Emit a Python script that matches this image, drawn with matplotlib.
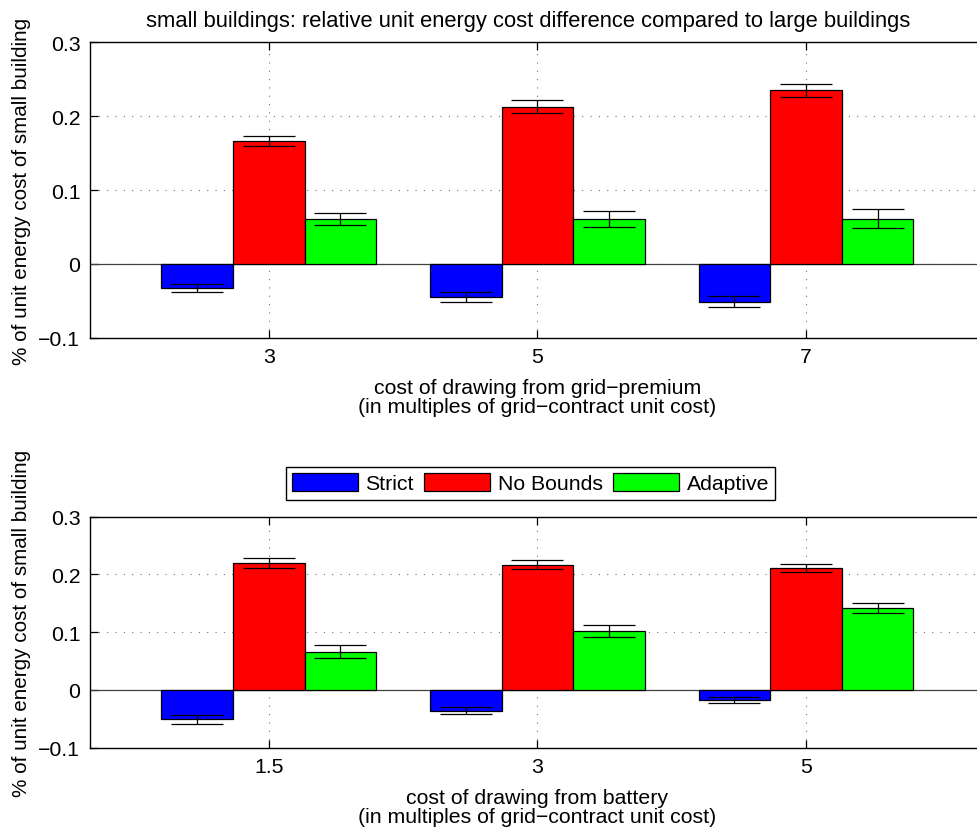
import numpy as np
import matplotlib
matplotlib.use('Agg')
import matplotlib.pyplot as plt

plt.rcParams['font.family'] = ['Liberation Sans', 'DejaVu Sans']
plt.rcParams['font.size'] = 15.3

series_names = ['Strict', 'No Bounds', 'Adaptive']
series_colors = ['#0000ff', '#ff0000', '#00ff00']

# top panel: cost of drawing from grid-premium
premium_labels = ['3', '5', '7']
premium_strict = [-0.032, -0.045, -0.051]
premium_strict_err = [0.0054, 0.0068, 0.0077]
premium_nobounds = [0.166, 0.213, 0.235]
premium_nobounds_err = [0.0070, 0.0086, 0.0092]
premium_adaptive = [0.061, 0.061, 0.061]
premium_adaptive_err = [0.0080, 0.0110, 0.0127]

# bottom panel: cost of drawing from battery
battery_labels = ['1.5', '3', '5']
battery_strict = [-0.051, -0.036, -0.017]
battery_strict_err = [0.0073, 0.0064, 0.0055]
battery_nobounds = [0.220, 0.217, 0.211]
battery_nobounds_err = [0.0087, 0.0083, 0.0075]
battery_adaptive = [0.0665, 0.1017, 0.1416]
battery_adaptive_err = [0.0120, 0.0107, 0.0090]

ylab = '% of unit energy cost of small building'


def grouped_bars(ax, labels, vals, errs, xlabel, ylab_y):
    x = np.arange(1, len(labels) + 1)
    w = 0.8 / 3
    bars = []
    for i, (v, e) in enumerate(zip(vals, errs)):
        xs = x + (i - 1) * w
        b = ax.bar(xs, v, width=w, color=series_colors[i], edgecolor='black',
                   linewidth=0.9, zorder=3, label=series_names[i])
        ax.errorbar(xs, v, yerr=e, fmt='none', ecolor='black', elinewidth=0.9,
                    capsize=19, capthick=0.9, zorder=4)
        bars.append(b)
    ax.axhline(0, color='0.25', lw=0.9, zorder=2)
    ax.set_xlim(1 - 0.666, 3 + 0.666)
    ax.set_ylim(-0.1, 0.3)
    ax.set_xticks(x)
    ax.set_xticklabels(labels)
    ax.set_yticks([-0.1, 0, 0.1, 0.2, 0.3])
    ax.set_yticklabels(['\u22120.1', '0', '0.1', '0.2', '0.3'])
    ax.grid(True, color='0.45', linestyle=(0, (1, 6.5)), linewidth=0.8, zorder=1)
    ax.set_axisbelow(True)
    ax.tick_params(direction='in', length=6, width=0.9, top=True, right=True, pad=7)
    for s in ax.spines.values():
        s.set_linewidth(1.0)
    ax.set_ylabel(ylab, fontsize=14.9)
    ax.yaxis.set_label_coords(-0.066, ylab_y)
    ax.set_xlabel(xlabel, linespacing=1.05, labelpad=8)
    return bars


fig = plt.figure(figsize=(9.77, 8.29), dpi=100)
ax1 = fig.add_axes([0.0921, 0.5914, 0.916, 0.3563])
ax2 = fig.add_axes([0.0921, 0.0969, 0.916, 0.2786])

grouped_bars(ax1, premium_labels,
             [premium_strict, premium_nobounds, premium_adaptive],
             [premium_strict_err, premium_nobounds_err, premium_adaptive_err],
             'cost of drawing from grid\u2212premium\n(in multiples of grid\u2212contract unit cost)',
             0.5)
ax1.set_title('small buildings: relative unit energy cost difference compared to large buildings',
              fontsize=15.8, pad=12, x=0.49)

bars = grouped_bars(ax2, battery_labels,
                    [battery_strict, battery_nobounds, battery_adaptive],
                    [battery_strict_err, battery_nobounds_err, battery_adaptive_err],
                    'cost of drawing from battery\n(in multiples of grid\u2212contract unit cost)',
                    0.544)

leg = fig.legend(bars, series_names, loc='center', bbox_to_anchor=(0.543, 0.416),
                 bbox_transform=fig.transFigure, ncol=3, fancybox=False,
                 edgecolor='black', framealpha=1, handlelength=3.1, handleheight=0.95,
                 columnspacing=0.5, handletextpad=0.35, borderpad=0.3)
leg.get_frame().set_linewidth(1.0)

fig.savefig('out.png', dpi=100)
plt.close()
